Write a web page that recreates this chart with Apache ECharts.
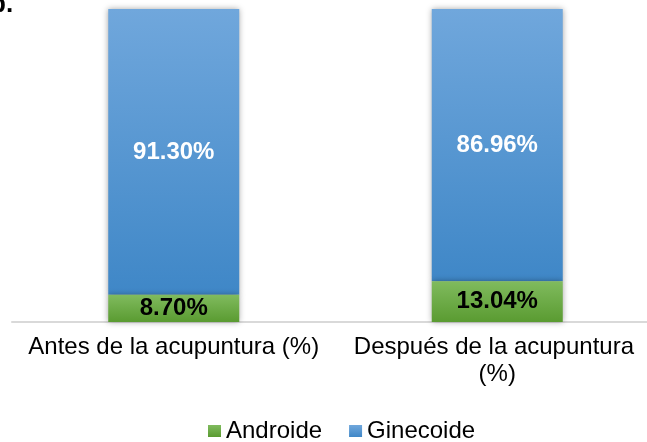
<!DOCTYPE html>
<html>
<head>
<meta charset="utf-8">
<script src="https://cdn.jsdelivr.net/npm/echarts@6/dist/echarts.min.js"></script>
<style>
  html, body { margin: 0; padding: 0; background: #fff; }
  #chart { width: 647px; height: 442px; }
</style>
</head>
<body>
<div id="chart"></div>
<script>
const categories = ['Antes de la acupuntura (%)', 'Después de la acupuntura (%)'];
const androide = [8.70, 13.04];
const ginecoide = [91.30, 86.96];

const chart = echarts.init(document.getElementById('chart'));

function grad(top, bottom) {
  return new echarts.graphic.LinearGradient(0, 0, 0, 1, [
    {offset: 0, color: top},
    {offset: 1, color: bottom}
  ]);
}

const pct = p => p.value.toFixed(2) + '%';

chart.setOption({
  animation: false,
  textStyle: {fontFamily: 'Liberation Sans, Arial, sans-serif'},
  graphic: [
    {
      type: 'text',
      left: -10,
      top: -8,
      style: {text: 'b.', font: 'bold 26px "Liberation Sans", Arial', fill: '#000'}
    }
  ],
  legend: {
    top: 414,
    left: 203,
    itemWidth: 13,
    itemHeight: 12,
    itemGap: 27,
    icon: 'rect',
    textStyle: {fontSize: 24, color: '#000', padding: [0, 0, 0, 0]},
    data: ['Androide', 'Ginecoide']
  },
  grid: {left: 12, width: 647, top: 9, bottom: 120, outerBoundsMode: 'none'},
  xAxis: {
    type: 'category',
    data: categories,
    axisTick: {show: false},
    axisLine: {lineStyle: {color: '#d9d9d9', width: 2}},
    axisLabel: {
      color: '#000',
      fontSize: 24,
      margin: 12,
      lineHeight: 27,
      width: 305,
      overflow: 'break',
      interval: 0
    }
  },
  yAxis: {type: 'value', min: 0, max: 100, show: false},
  series: [
    {
      name: 'Androide',
      type: 'bar',
      stack: 'total',
      barWidth: 131,
      data: androide,
      itemStyle: {
        color: grad('#80bb5e', '#5a9b31'),
        shadowBlur: 6,
        shadowColor: 'rgba(0,0,0,0.35)'
      },
      label: {show: true, position: 'inside', formatter: pct, color: '#000', fontSize: 24, fontWeight: 'bold'},
      z: 3
    },
    {
      name: 'Ginecoide',
      type: 'bar',
      stack: 'total',
      barWidth: 131,
      data: ginecoide,
      itemStyle: {
        color: grad('#70a7dc', '#3f87c7'),
        shadowBlur: 6,
        shadowColor: 'rgba(0,0,0,0.35)'
      },
      label: {show: true, position: 'inside', formatter: pct, color: '#fff', fontSize: 24, fontWeight: 'bold'},
      z: 2
    }
  ]
});
</script>
</body>
</html>
